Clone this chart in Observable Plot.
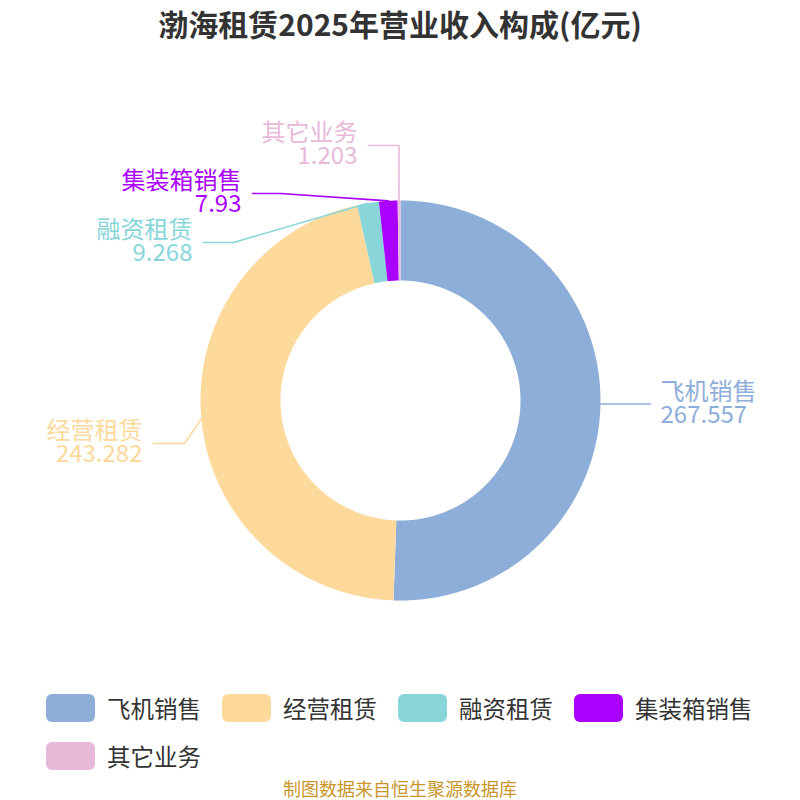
<!DOCTYPE html>
<html>
<head>
<meta charset="utf-8">
<script src="https://cdn.jsdelivr.net/npm/d3@7"></script>
<script src="https://cdn.jsdelivr.net/npm/@observablehq/plot@0.6"></script>
<style>
  body { margin: 0; background: #fff; font-family: "Noto Sans CJK SC", "Noto Sans", sans-serif; }
  #wrap { position: relative; width: 800px; height: 800px; overflow: hidden; background: #fff; }
  #title { position: absolute; top: 1px; left: 0; width: 800px; text-align: center; font-size: 30px; font-weight: bold; color: #333; line-height: 44px; }
  #chart { position: absolute; top: 60px; left: 0; }
  #legend { position: absolute; top: 689px; left: 46px; width: 730px; display: flex; flex-wrap: wrap; column-gap: 21px; row-gap: 11px; }
  .item { display: flex; align-items: center; height: 37px; font-size: 23.5px; color: #333; }
  .sw { width: 49px; height: 28px; border-radius: 6px; margin-right: 12px; }
  #caption { position: absolute; top: 776px; left: 0; width: 800px; text-align: center; font-size: 18px; color: #c8962a; line-height: 24px; }
</style>
</head>
<body>
<div id="wrap">
  <div id="title">渤海租赁2025年营业收入构成(亿元)</div>
  <div id="chart"></div>
  <div id="legend"></div>
  <div id="caption">制图数据来自恒生聚源数据库</div>
</div>
<script>
// ---- data ----
const categories = ["飞机销售", "经营租赁", "融资租赁", "集装箱销售", "其它业务"];
const values = [267.557, 243.282, 9.268, 7.93, 1.203];
const valueLabels = ["267.557", "243.282", "9.268", "7.93", "1.203"];
const colors = ["#8eaeda", "#fdd99b", "#88d6da", "#aa00ff", "#e8b9d9"];

// ---- layout (label placement, chart units: x right, y up, origin at pie centre) ----
const outerR = 200, innerR = 120;
const labelLayout = [
  {elbowX: 215, elbowY: null, endX: 250, side: "right"},
  {elbowX: -216, elbowY: -43, endX: -247, side: "left"},
  {elbowX: -167, elbowY: 158, endX: -197, side: "left"},
  {elbowX: -120, elbowY: 207, endX: -148, side: "left"},
  {elbowX: -1.5, elbowY: 255, endX: -32, side: "left"}
];

const table = categories.map((c, i) => ({name: c, value: values[i], label: valueLabels[i]}));
const arcs = d3.pie().sort(null).value(d => d.value)(table);

// slice polygons
const slicePts = [];
for (const a of arcs) {
  const n = Math.max(3, Math.ceil((a.endAngle - a.startAngle) / 0.005));
  for (let k = 0; k <= n; k++) {
    const t = a.startAngle + (a.endAngle - a.startAngle) * k / n;
    slicePts.push({name: a.data.name, x: outerR * Math.sin(t), y: outerR * Math.cos(t)});
  }
  for (let k = n; k >= 0; k--) {
    const t = a.startAngle + (a.endAngle - a.startAngle) * k / n;
    slicePts.push({name: a.data.name, x: innerR * Math.sin(t), y: innerR * Math.cos(t)});
  }
}

// leader lines and labels
const linePts = [];
const labels = [];
arcs.forEach((a, i) => {
  const mid = (a.startAngle + a.endAngle) / 2;
  const sx = outerR * Math.sin(mid), sy = outerR * Math.cos(mid);
  const L = labelLayout[i];
  const ey = L.elbowY == null ? sy : L.elbowY;
  linePts.push({name: a.data.name, x: sx, y: sy});
  linePts.push({name: a.data.name, x: L.elbowX, y: ey});
  linePts.push({name: a.data.name, x: L.endX, y: ey});
  const dx = L.side === "right" ? 10 : -11;
  labels.push({name: a.data.name, value: a.data.label, x: L.endX + dx, y: ey, anchor: L.side === "right" ? "start" : "end"});
});

const color = {domain: categories, range: colors};
const textOpts = (anchor, field, dy) => ({x: "x", y: "y", text: field, fill: "name", textAnchor: anchor, dy, fontSize: 24});

const plot = Plot.plot({
  width: 800,
  height: 620,
  margin: 0,
  x: {domain: [-400, 400], axis: null},
  y: {domain: [-280, 340], axis: null},
  color,
  style: {background: "transparent", fontFamily: "'Noto Sans CJK SC', 'Noto Sans', sans-serif"},
  marks: [
    Plot.line(slicePts, {x: "x", y: "y", z: "name", fill: "name", stroke: "none", curve: "linear"}),
    Plot.line(linePts, {x: "x", y: "y", z: "name", stroke: "name", strokeWidth: 1.6}),
    Plot.text(labels.filter(d => d.anchor === "start"), textOpts("start", "name", -12)),
    Plot.text(labels.filter(d => d.anchor === "start"), textOpts("start", "value", 11)),
    Plot.text(labels.filter(d => d.anchor === "end"), textOpts("end", "name", -12)),
    Plot.text(labels.filter(d => d.anchor === "end"), textOpts("end", "value", 11))
  ]
});
document.getElementById("chart").appendChild(plot);

// legend
const legend = document.getElementById("legend");
categories.forEach((c, i) => {
  const item = document.createElement("div");
  item.className = "item";
  const sw = document.createElement("div");
  sw.className = "sw";
  sw.style.background = colors[i];
  const tx = document.createElement("span");
  tx.textContent = c;
  item.appendChild(sw);
  item.appendChild(tx);
  legend.appendChild(item);
});
</script>
</body>
</html>
